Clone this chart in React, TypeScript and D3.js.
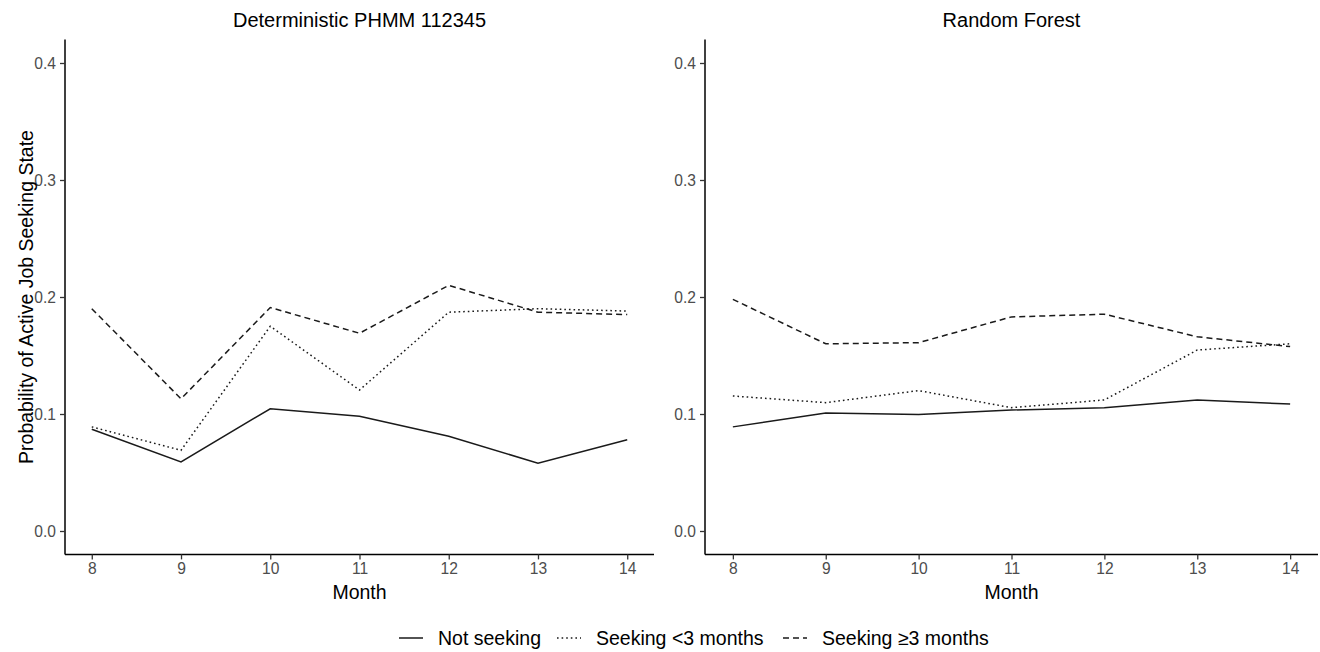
import React, { useRef, useEffect } from 'react'
import * as d3 from 'd3'

const months = [8, 9, 10, 11, 12, 13, 14]
const yTicks = [0.0, 0.1, 0.2, 0.3, 0.4]

// Deterministic PHMM 112345
const phmmNotSeeking = [0.087, 0.059, 0.1045, 0.098, 0.081, 0.058, 0.078]
const phmmSeekingShort = [0.089, 0.069, 0.175, 0.1205, 0.187, 0.19, 0.188]
const phmmSeekingLong = [0.19, 0.113, 0.191, 0.169, 0.21, 0.187, 0.185]

// Random Forest
const rfNotSeeking = [0.089, 0.1008, 0.0995, 0.1034, 0.1054, 0.112, 0.1085]
const rfSeekingShort = [0.1154, 0.1097, 0.12, 0.1054, 0.112, 0.1547, 0.16]
const rfSeekingLong = [0.198, 0.16, 0.161, 0.183, 0.1853, 0.166, 0.1576]

const seriesNames = ['Not seeking', 'Seeking <3 months', 'Seeking \u22653 months']
const panelTitles = ['Deterministic PHMM 112345', 'Random Forest']

const W = 1320
const H = 652
const FONT = '"Liberation Sans", Arial, Helvetica, sans-serif'
const dashes = [null, '1.6,3', '6,4']

function App() {
  const ref = useRef(null)

  useEffect(() => {
    const svg = d3.select(ref.current)
    svg.selectAll('*').remove()

    const panels = [
      { title: panelTitles[0], x0: 65, x1: 654, series: [phmmNotSeeking, phmmSeekingShort, phmmSeekingLong] },
      { title: panelTitles[1], x0: 705, x1: 1318, series: [rfNotSeeking, rfSeekingShort, rfSeekingLong] },
    ]
    const top = 39.6
    const bottom = 554.4

    panels.forEach((p) => {
      const x = d3.scaleLinear().domain([7.7, 14.3]).range([p.x0, p.x1])
      const y = d3.scaleLinear().domain([-0.02, 0.42]).range([bottom, top])
      const g = svg.append('g')

      // axes
      const xa = g.append('g').attr('transform', `translate(0,${bottom})`)
        .call(d3.axisBottom(x).tickValues(months).tickFormat(d3.format('d')).tickSize(5).tickPadding(4))
      const ya = g.append('g').attr('transform', `translate(${p.x0},0)`)
        .call(d3.axisLeft(y).tickValues(yTicks).tickFormat(d3.format('.1f')).tickSize(5).tickPadding(4))
      ;[xa, ya].forEach((a) => {
        a.select('.domain').attr('stroke', '#000').attr('stroke-width', 1.5)
        a.selectAll('.tick line').attr('stroke', '#333').attr('stroke-width', 1.3)
        a.selectAll('.tick text').attr('fill', '#4d4d4d').style('font-size', '15.6px').style('font-family', FONT)
      })
      xa.select('.domain').attr('d', `M${p.x0},0H${p.x1}`)
      ya.select('.domain').attr('d', `M0,${top}V${bottom}`)

      // lines
      const line = d3.line<number>().x((d, i) => x(months[i])).y((d) => y(d))
      p.series.forEach((vals, k) => {
        g.append('path')
          .datum(vals)
          .attr('d', line)
          .attr('fill', 'none')
          .attr('stroke', '#1a1a1a')
          .attr('stroke-width', 1.5)
          .attr('stroke-dasharray', dashes[k])
      })

      // titles
      g.append('text')
        .attr('x', (p.x0 + p.x1) / 2).attr('y', 27)
        .attr('text-anchor', 'middle')
        .style('font-size', '20px').style('font-family', FONT).attr('fill', '#000')
        .text(p.title)
      g.append('text')
        .attr('x', (p.x0 + p.x1) / 2).attr('y', 599)
        .attr('text-anchor', 'middle')
        .style('font-size', '19.5px').style('font-family', FONT).attr('fill', '#000')
        .text('Month')
    })

    svg.append('text')
      .attr('transform', `translate(33,${(top + bottom) / 2}) rotate(-90)`)
      .attr('text-anchor', 'middle')
      .style('font-size', '19.5px').style('font-family', FONT).attr('fill', '#000')
      .text('Probability of Active Job Seeking State')

    // legend
    const legendX = [399, 557, 783]
    const legY = 638
    seriesNames.forEach((name, k) => {
      const lg = svg.append('g').attr('transform', `translate(${legendX[k]},${legY})`)
      lg.append('line')
        .attr('x1', 0).attr('x2', 24).attr('y1', 0).attr('y2', 0)
        .attr('stroke', '#1a1a1a').attr('stroke-width', 1.5)
        .attr('stroke-dasharray', dashes[k])
      lg.append('text')
        .attr('x', 39).attr('y', 7)
        .style('font-size', '19.5px').style('font-family', FONT).attr('fill', '#000')
        .text(name)
    })
  }, [])

  return (
    <div style={{ position: 'absolute', left: 0, top: 0 }}>
      <svg ref={ref} width={W} height={H} style={{ display: 'block', background: '#fff' }} />
    </div>
  )
}

export default App
